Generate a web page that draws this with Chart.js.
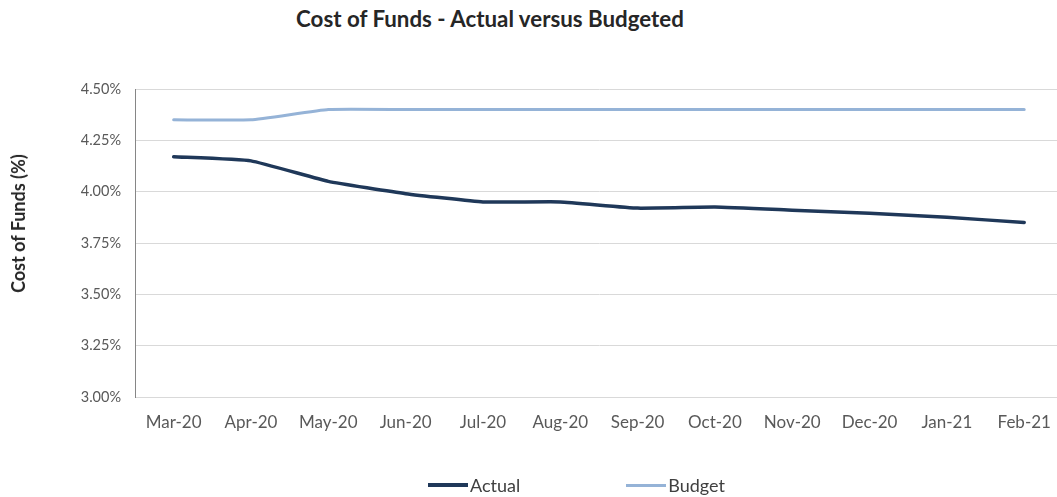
<!DOCTYPE html>
<html>
<head>
<meta charset="utf-8">
<script src="https://cdn.jsdelivr.net/npm/chart.js@4.4.1/dist/chart.umd.min.js"></script>
<style>
  html, body { margin: 0; padding: 0; background: #fff; overflow: hidden; }
  #wrap { position: relative; width: 1057px; height: 497px; overflow: hidden; }
  #chartBox { position: absolute; left: 0; top: 0; width: 1066px; height: 497px; }
  #title {
    position: absolute; left: 0; width: 980px; top: 5px; text-align: center;
    font: bold 22.3px Lato, "Open Sans", sans-serif; color: #262626;
  }
  #yTitle {
    position: absolute; left: 7px; top: 150px; height: 147px; width: 22px;
    writing-mode: vertical-rl; transform: rotate(180deg); text-align: center;
    font: bold 18px Lato, "Open Sans", sans-serif; color: #262626; line-height: 22px;
  }
  #legend {
    position: absolute; top: 474px; left: 428px;
    font: 18px Lato, "Open Sans", sans-serif; color: #404040;
    display: flex; align-items: center;
  }
  .item { display: flex; align-items: center; }
  .swatch { display: inline-block; width: 40px; height: 4px; margin-right: 2px; }
</style>
</head>
<body>
<div id="wrap">
  <div id="title">Cost of Funds - Actual versus Budgeted</div>
  <div id="chartBox"><canvas id="costChart"></canvas></div>
  <div id="yTitle">Cost of Funds (%)</div>
  <div id="legend"></div>
</div>
<script>
const months = ["Mar-20", "Apr-20", "May-20", "Jun-20", "Jul-20", "Aug-20",
  "Sep-20", "Oct-20", "Nov-20", "Dec-20", "Jan-21", "Feb-21"];
const actual = [4.17, 4.15, 4.05, 3.99, 3.95, 3.95, 3.92, 3.925, 3.91, 3.895, 3.875, 3.85];
const budget = [4.35, 4.35, 4.40, 4.40, 4.40, 4.40, 4.40, 4.40, 4.40, 4.40, 4.40, 4.40];

const seriesInfo = [
  { label: "Actual", data: actual, color: "#1f3859", width: 3.5 },
  { label: "Budget", data: budget, color: "#95b3d7", width: 3 },
];

const fontFamily = "Lato, 'Open Sans', sans-serif";

const ctx = document.getElementById("costChart").getContext("2d");
const costChart = new Chart(ctx, {
  type: "line",
  data: {
    labels: months,
    datasets: seriesInfo.map((s) => ({
      label: s.label,
      data: s.data,
      borderColor: s.color,
      backgroundColor: s.color,
      borderWidth: s.width,
      pointRadius: 0,
      tension: 0.12,
      borderCapStyle: "round",
    })),
  },
  options: {
    responsive: true,
    maintainAspectRatio: false,
    animation: false,
    layout: { padding: { top: 89, right: 2, left: 0, bottom: 0 } },
    plugins: {
      legend: { display: false },
      title: { display: false },
      tooltip: { enabled: false },
    },
    scales: {
      x: {
        offset: true,
        grid: { display: false, drawTicks: false },
        border: { color: "#d9d9d9", width: 1 },
        ticks: { color: "#595959", font: { family: fontFamily, size: 17 }, padding: 15, maxRotation: 0, autoSkip: false },
        afterFit: (scale) => { scale.height = 100; },
      },
      y: {
        min: 3.0,
        max: 4.5,
        grid: { color: "#d9d9d9", drawTicks: false },
        border: { color: "#868686", width: 1 },
        ticks: {
          stepSize: 0.25,
          color: "#595959",
          font: { family: fontFamily, size: 14.5 },
          padding: 14,
          callback: (v) => `${Number(v).toFixed(2)}%`,
        },
        afterFit: (scale) => { scale.width = 135; },
      },
    },
  },
});

const legendEl = document.getElementById("legend");
seriesInfo.forEach((s, idx) => {
  const item = document.createElement("span");
  item.className = "item";
  if (idx > 0) item.style.marginLeft = "106px";
  const sw = document.createElement("span");
  sw.className = "swatch";
  sw.style.background = s.color;
  sw.style.height = s.width + "px";
  const txt = document.createElement("span");
  txt.textContent = s.label;
  item.appendChild(sw);
  item.appendChild(txt);
  legendEl.appendChild(item);
});
</script>
</body>
</html>
